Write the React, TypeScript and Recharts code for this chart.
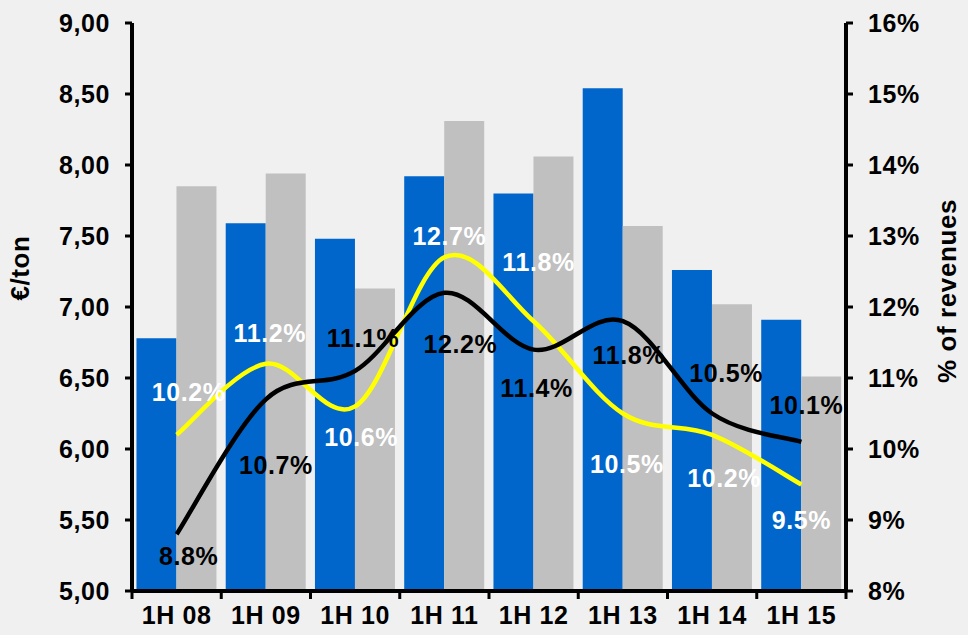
import React from 'react';
import {
  ComposedChart,
  Bar,
  Line,
  XAxis,
  YAxis,
  LabelList,
} from 'recharts';

const periods = ['1H 08', '1H 09', '1H 10', '1H 11', '1H 12', '1H 13', '1H 14', '1H 15'];
const blueValues = [6.78, 7.59, 7.48, 7.92, 7.8, 8.54, 7.26, 6.91];
const greyValues = [7.85, 7.94, 7.13, 8.31, 8.06, 7.57, 7.02, 6.51];
const yellowPct = [10.2, 11.2, 10.6, 12.7, 11.8, 10.5, 10.2, 9.5];
const blackPct = [8.8, 10.7, 11.1, 12.2, 11.4, 11.8, 10.5, 10.1];
const leftTicks = [5, 5.5, 6, 6.5, 7, 7.5, 8, 8.5, 9];
const rightTicks = [8, 9, 10, 11, 12, 13, 14, 15, 16];

// label placement around each point (dx, dy in px)
const yellowLabelDx = [12, 4, 6, 5, 5, 4, 12, 0];
const yellowLabelDy = [-43, -31, 31, -21, -59, 50, 43, 35];
const blackLabelDx = [12, 10, 8, 16, 3, 6, 14, 5];
const blackLabelDy = [22, 66, -33, 51, 38, 34, -41, -37];

const data = periods.map((p, i) => ({
  period: p,
  blue: blueValues[i],
  grey: greyValues[i],
  yellow: yellowPct[i],
  black: blackPct[i],
}));

const W = 968;
const H = 635;
const PLOT_LEFT = 132;
const PLOT_RIGHT = 846;
const BAND = (PLOT_RIGHT - PLOT_LEFT) / periods.length;
const FONT = '"Liberation Sans", Arial, sans-serif';
const FS = 25;
const LS = 0.6;

// Excel-like smoothed line (Catmull-Rom)
const smoothCurve = (context: any) => {
  let pts: number[][] = [];
  return {
    areaStart() {},
    areaEnd() {},
    lineStart() {
      pts = [];
    },
    lineEnd() {
      const n = pts.length;
      if (!n) return;
      context.moveTo(pts[0][0], pts[0][1]);
      for (let i = 0; i < n - 1; i++) {
        const p0 = pts[Math.max(i - 1, 0)];
        const p1 = pts[i];
        const p2 = pts[i + 1];
        const p3 = pts[Math.min(i + 2, n - 1)];
        context.bezierCurveTo(
          p1[0] + (p2[0] - p0[0]) / 6,
          p1[1] + (p2[1] - p0[1]) / 6,
          p2[0] - (p3[0] - p1[0]) / 6,
          p2[1] - (p3[1] - p1[1]) / 6,
          p2[0],
          p2[1]
        );
      }
    },
    point(x: number, y: number) {
      pts.push([+x, +y]);
    },
  };
};

const makeLabel = (color: string, dxs: number[], dys: number[]) => (props: any) => {
  const { x, y, value, index } = props;
  return (
    <text
      x={x + dxs[index]}
      y={y + dys[index]}
      textAnchor="middle"
      dominantBaseline="central"
      fill={color}
      fontFamily={FONT}
      fontWeight="bold"
      fontSize={FS}
      letterSpacing={LS}
    >
      {`${value.toFixed(1)}%`}
    </text>
  );
};

const PeriodTick = (props: any) => {
  const { x, y, payload, index } = props;
  return (
    <g>
      <line x1={x - BAND / 2} y1={y} x2={x - BAND / 2} y2={y + 8} stroke="#000" strokeWidth={3} />
      {index === periods.length - 1 && (
        <line x1={x + BAND / 2} y1={y} x2={x + BAND / 2} y2={y + 8} stroke="#000" strokeWidth={3} />
      )}
      <text
        x={x}
        y={y + 24}
        textAnchor="middle"
        dominantBaseline="central"
        fill="#000"
        fontFamily={FONT}
        fontWeight="bold"
        fontSize={FS}
        letterSpacing={LS}
      >
        {payload.value}
      </text>
    </g>
  );
};

const tickStyle = { fontSize: FS, fontWeight: 'bold', fill: '#000', fontFamily: FONT, letterSpacing: LS };

export default function App() {
  return (
    <div style={{ position: 'fixed', left: 0, top: 0, width: W, height: H, background: '#f0f0f0' }}>
      <ComposedChart
        width={W}
        height={H}
        data={data}
        margin={{ top: 23, right: 0, bottom: 0, left: 0 }}
        barCategoryGap="5%"
        barGap={0}
      >
        <XAxis
          dataKey="period"
          height={44}
          stroke="#000"
          axisLine={{ stroke: '#000', strokeWidth: 4 }}
          tickLine={false}
          tickSize={0}
          tickMargin={0}
          interval={0}
          tick={<PeriodTick />}
        />
        <YAxis
          yAxisId="left"
          width={PLOT_LEFT}
          domain={[5, 9]}
          ticks={leftTicks}
          interval={0}
          axisLine={{ stroke: '#000', strokeWidth: 4 }}
          tickLine={{ stroke: '#000', strokeWidth: 3 }}
          tickSize={7}
          tickMargin={15}
          tick={tickStyle}
          tickFormatter={(v: number) => v.toFixed(2).replace('.', ',')}
          label={() => (
            <text
              x={20}
              y={268}
              transform="rotate(-90 20 268)"
              textAnchor="middle"
              dominantBaseline="central"
              fontFamily={FONT}
              fontWeight="bold"
              fontSize={26}
              letterSpacing={LS}
              fill="#000"
            >
              €/ton
            </text>
          )}
        />
        <YAxis
          yAxisId="right"
          orientation="right"
          width={W - PLOT_RIGHT}
          domain={[8, 16]}
          ticks={rightTicks}
          interval={0}
          axisLine={{ stroke: '#000', strokeWidth: 4 }}
          tickLine={{ stroke: '#000', strokeWidth: 3 }}
          tickSize={7}
          tickMargin={15}
          tick={tickStyle}
          tickFormatter={(v: number) => `${v}%`}
          label={() => (
            <text
              x={947}
              y={291}
              transform="rotate(-90 947 291)"
              textAnchor="middle"
              dominantBaseline="central"
              fontFamily={FONT}
              fontWeight="bold"
              fontSize={26}
              letterSpacing={LS}
              fill="#000"
            >
              % of revenues
            </text>
          )}
        />
        <Bar yAxisId="left" dataKey="blue" fill="#0066CC" isAnimationActive={false} />
        <Bar yAxisId="left" dataKey="grey" fill="#C0C0C0" isAnimationActive={false} />
        <Line
          yAxisId="right"
          dataKey="yellow"
          type={smoothCurve as any}
          stroke="#FFFF00"
          strokeWidth={4.5}
          dot={false}
          isAnimationActive={false}
        >
          <LabelList dataKey="yellow" content={makeLabel('#fff', yellowLabelDx, yellowLabelDy)} />
        </Line>
        <Line
          yAxisId="right"
          dataKey="black"
          type={smoothCurve as any}
          stroke="#000"
          strokeWidth={4.5}
          dot={false}
          isAnimationActive={false}
        >
          <LabelList dataKey="black" content={makeLabel('#000', blackLabelDx, blackLabelDy)} />
        </Line>
      </ComposedChart>
    </div>
  );
}
